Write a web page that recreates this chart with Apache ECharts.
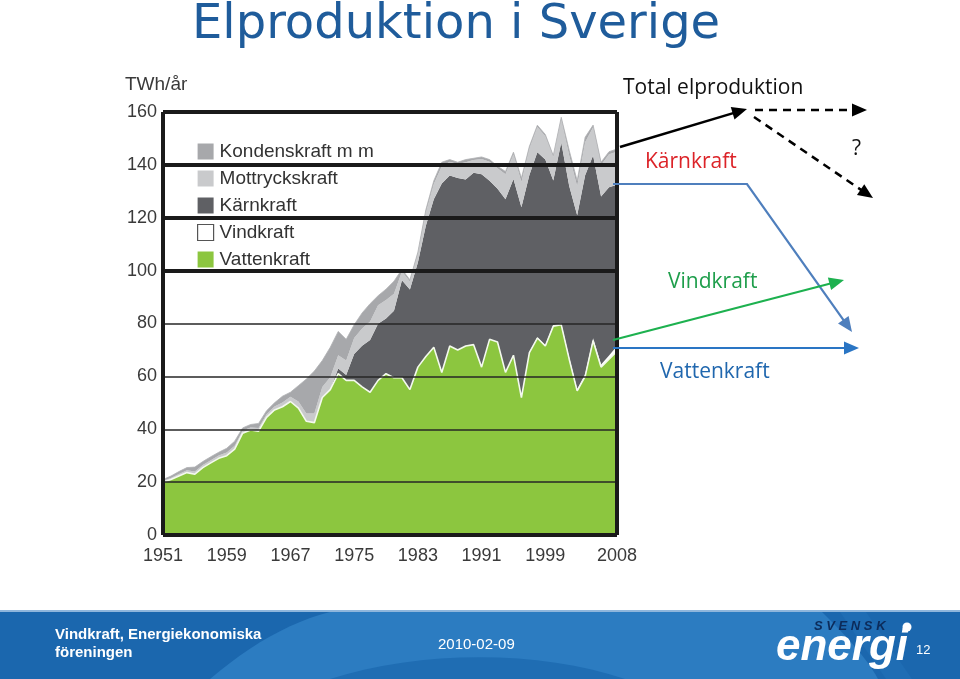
<!DOCTYPE html>
<html>
<head>
<meta charset="utf-8">
<script src="https://cdn.jsdelivr.net/npm/echarts@6/dist/echarts.min.js"></script>
<style>
html,body{margin:0;padding:0;background:#fff;}
#chart{width:960px;height:679px;}
</style>
</head>
<body>
<div id="chart"></div>
<script>
// ---- data (TWh/år) ----
const years = ['1951','1952','1953','1954','1955','1956','1957','1958','1959','1960',
'1961','1962','1963','1964','1965','1966','1967','1968','1969','1970',
'1971','1972','1973','1974','1975','1976','1977','1978','1979','1980',
'1981','1982','1983','1984','1985','1986','1987','1988','1989','1990',
'1991','1992','1993','1994','1995','1996','1997','1998','1999','2000',
'2001','2002','2003','2004','2005','2006','2007','2008'];
const xTickYears = ['1951','1959','1967','1975','1983','1991','1999','2008'];
const yTicks = [0,20,40,60,80,100,120,140,160];

const vattenkraft = [20,21,22.3,23.6,23,25.5,27.3,29,30,32.5,
38.5,39.7,39.3,44.5,47.3,48.5,50.5,48,43,42.5,
52,55,61,58.5,58.5,56,54,58.5,61,59.5,
59.5,55,63.5,67.5,71,61.5,71.5,70,71.5,72,
63.5,74,73,61.5,68,52,69,74.5,71.5,79,
79.5,66.5,54.5,60,73.5,63.5,66.5,69.5];
const vindkraft = [0,0,0,0,0,0,0,0,0,0,
0,0,0,0,0,0,0,0,0,0,
0,0,0,0,0,0,0,0,0,0,
0,0,0,0,0,0,0,0,0,0,
0,0,0.1,0.1,0.1,0.2,0.2,0.3,0.35,0.45,
0.5,0.6,0.6,0.85,0.95,1.0,1.4,2.0];
const karnkraft = [0,0,0,0,0,0,0,0,0,0,
0,0,0,0,0,0,0,0,0,0,
0,0.2,2,2,10,15.6,19.8,21.4,20.9,25.3,
36.9,37.9,39.6,49.5,56,71.5,64.5,65,63,65,
73,60,57.9,65.4,66.6,71.8,67,70,70.2,54.6,
68.5,64.9,65.8,75.2,69.1,63.5,63.6,61];
const mottryckskraft = [0.5,0.6,0.8,0.9,1.0,1.0,1.0,1.1,1.2,1.3,
1.0,1.0,1.2,1.2,1.3,1.6,1.8,2.5,3.0,3.5,
4.0,4.5,5.0,5.5,6.0,6.5,7.0,7.0,7.0,6.5,
3.3,3.0,3.2,5.0,5.8,6.5,5.2,5.3,6.5,4.8,
5.7,7.2,7.7,9.5,9.3,9.5,10,9.5,8.8,9,
8.8,11.5,11,12.5,10.7,12,12.5,12.5];
const kondenskraft = [0.5,0.7,0.9,1.0,1.7,1.3,1.3,1.2,1.6,1.7,
1.0,1.1,1.7,1.3,1.4,2.4,1.7,6.0,13.0,16.0,
10.0,11.3,9.0,8.0,5.0,5.9,6.7,3.6,4.1,4.7,
0.8,0.6,0.7,1.0,1.2,1.5,0.8,0.7,1.0,0.7,
0.8,0.8,0.8,1.0,0.8,1.5,0.8,0.7,0.65,0.5,
0.7,2.0,2.1,1.9,0.8,1.0,1.0,1.0];

const thickGrid = [160,140,120,100,0];
const thinGrid = [80,60,40,20];

// ---- styles ----
const FONT = '"Liberation Sans", Arial, sans-serif';
const C = {
  vatten:'#8cc63f', vind:'#ffffff', karn:'#5f6064', mottryck:'#c9cacc', kondens:'#a7a8ab'
};
const thick = {color:'#1a1a1a', width:4, type:'solid'};
const thin = {color:'#262626', width:1.5, type:'solid'};

function areaSeries(name, data, color, extra){
  return Object.assign({
    name, type:'line', stack:'total', data,
    symbol:'none', showSymbol:false,
    lineStyle:{width:0, color:color},
    itemStyle:{color:color},
    areaStyle:{color:color, opacity:1},
    emphasis:{disabled:true},
    z:2
  }, extra||{});
}

const markData = [];
thickGrid.forEach(v=>markData.push({yAxis:v, lineStyle:thick}));
thinGrid.forEach(v=>markData.push({yAxis:v, lineStyle:thin}));
markData.push({xAxis:years[0], lineStyle:thick});
markData.push({xAxis:years[years.length-1], lineStyle:thick});

// ---- annotation helpers ----
function arrowHead(x1,y1,x2,y2,color,len,half){
  const a=Math.atan2(y2-y1,x2-x1);
  const bx=x2-len*Math.cos(a), by=y2-len*Math.sin(a);
  const px=-Math.sin(a)*half, py=Math.cos(a)*half;
  return {type:'polygon', silent:true, z:20,
    shape:{points:[[x2,y2],[bx+px,by+py],[bx-px,by-py]]},
    style:{fill:color}};
}
function arrowPolyline(pts,color,width,dash){
  const n=pts.length;
  const p1=pts[n-2], p2=pts[n-1];
  const a=Math.atan2(p2[1]-p1[1],p2[0]-p1[0]);
  const shortEnd=[p2[0]-10*Math.cos(a), p2[1]-10*Math.sin(a)];
  const linePts=pts.slice(0,n-1).concat([shortEnd]);
  return [
    {type:'polyline', silent:true, z:20, shape:{points:linePts},
     style:{stroke:color, lineWidth:width, fill:null, lineDash:dash||null}},
    arrowHead(p1[0],p1[1],p2[0],p2[1],color,15,6.5)
  ];
}
function bez(p0,p1,p2,p3,n){
  const out=[];
  for(let i=0;i<=n;i++){
    const t=i/n, u=1-t;
    out.push([u*u*u*p0[0]+3*u*u*t*p1[0]+3*u*t*t*p2[0]+t*t*t*p3[0],
              u*u*u*p0[1]+3*u*u*t*p1[1]+3*u*t*t*p2[1]+t*t*t*p3[1]]);
  }
  return out;
}

const graphics = [];
// Title
graphics.push({type:'text', left:192, top:2, z:30,
  style:{text:'Elproduktion i Sverige', font:'48px "DejaVu Sans", sans-serif', fill:'#1f5c9b'}});
// Axis unit
graphics.push({type:'text', left:125, top:75, z:30,
  style:{text:'TWh/år', font:'19px '+FONT, fill:'#3a3a3a'}});

// Right-hand annotations
const AF = '"Open Sans", "Noto Sans", sans-serif';
graphics.push({type:'text', left:623, top:78, z:30, style:{text:'Total elproduktion', font:'21px '+AF, fill:'#111'}});
graphics.push({type:'text', left:645, top:152, z:30, style:{text:'Kärnkraft', font:'21px '+AF, fill:'#dc2328'}});
graphics.push({type:'text', left:668, top:272, z:30, style:{text:'Vindkraft', font:'21px '+AF, fill:'#1e9e4b'}});
graphics.push({type:'text', left:660, top:362, z:30, style:{text:'Vattenkraft', font:'21px '+AF, fill:'#2067ae'}});
graphics.push({type:'text', left:852, top:139, z:30, style:{text:'?', font:'21px '+AF, fill:'#111'}});

arrowPolyline([[620,147],[747,109]],'#000',2.5).forEach(g=>graphics.push(g));
arrowPolyline([[755,110],[867,110]],'#000',2.5,[8,6]).forEach(g=>graphics.push(g));
arrowPolyline([[754,117],[873,198]],'#000',2.5,[8,6]).forEach(g=>graphics.push(g));
arrowPolyline([[613,184],[747,184],[852,332]],'#4f7fbd',2.2).forEach(g=>graphics.push(g));
arrowPolyline([[613,340],[844,280]],'#1db14f',2.2).forEach(g=>graphics.push(g));
arrowPolyline([[613,348],[859,348]],'#2a75c4',2.2).forEach(g=>graphics.push(g));

// Footer band
graphics.push({type:'rect', silent:true, z:1, shape:{x:0,y:612,width:960,height:67}, style:{fill:'#1b67ae'}});
graphics.push({type:'polygon', silent:true, z:1,
  shape:{points: bez([210,679],[250,645],[290,622],[330,612],12).concat(bez([822,612],[850,640],[868,660],[878,679],12))},
  style:{fill:'#2c7cc1'}});
graphics.push({type:'polygon', silent:true, z:1,
  shape:{points: bez([330,679],[420,650],[540,650],[625,679],16)},
  style:{fill:'#1f6db3'}});
graphics.push({type:'polygon', silent:true, z:1, shape:{points:[[840,612],[866,612],[912,679],[886,679]]}, style:{fill:'#1f6db4'}});
graphics.push({type:'rect', silent:true, z:1, shape:{x:0,y:610,width:960,height:2}, style:{fill:'#8fb6dc'}});
graphics.push({type:'text', left:55, top:627, z:30, style:{text:'Vindkraft, Energiekonomiska', font:'bold 15px '+FONT, fill:'#fff'}});
graphics.push({type:'text', left:55, top:645, z:30, style:{text:'föreningen', font:'bold 15px '+FONT, fill:'#fff'}});
graphics.push({type:'text', left:438, top:637, z:30, style:{text:'2010-02-09', font:'15px '+FONT, fill:'#fff'}});
graphics.push({type:'text', left:814, top:620, z:30, style:{text:'S V E N S K', font:'bold italic 13px '+FONT, fill:'#0c2b5a'}});
graphics.push({type:'circle', silent:true, z:30, shape:{cx:907,cy:627,r:4.5}, style:{fill:'#fff'}});
graphics.push({type:'text', left:776, top:626, z:30, style:{text:'energi', font:'bold italic 44px '+FONT, fill:'#fff'}});
graphics.push({type:'text', left:916, top:644, z:30, style:{text:'12', font:'13px '+FONT, fill:'#fff'}});

const chart = echarts.init(document.getElementById('chart'), null, {renderer:'canvas'});
chart.setOption({
  animation:false,
  backgroundColor:'#ffffff',
  grid:{left:163, top:112, width:454, height:423, containLabel:false},
  legend:{
    orient:'vertical', left:192, top:137,
    itemWidth:16, itemHeight:16, itemGap:8, icon:'rect',
    selectedMode:false,
    textStyle:{fontSize:19, color:'#333', fontFamily:FONT, padding:[0,0,0,1]},
    data:[
      {name:'Kondenskraft m m', itemStyle:{color:C.kondens}},
      {name:'Mottryckskraft', itemStyle:{color:C.mottryck}},
      {name:'Kärnkraft', itemStyle:{color:C.karn}},
      {name:'Vindkraft', itemStyle:{color:'#fff', borderColor:'#555', borderWidth:1.2}},
      {name:'Vattenkraft', itemStyle:{color:C.vatten}}
    ]
  },
  xAxis:{
    type:'category', data:years, boundaryGap:false,
    axisLine:{show:false}, axisTick:{show:false}, splitLine:{show:false},
    axisLabel:{
      interval:(i,v)=>xTickYears.indexOf(v)>=0,
      fontSize:18, color:'#3a3a3a', fontFamily:FONT, margin:12, hideOverlap:false
    }
  },
  yAxis:{
    type:'value', min:yTicks[0], max:yTicks[yTicks.length-1], interval:20,
    axisLine:{show:false}, axisTick:{show:false}, splitLine:{show:false},
    axisLabel:{fontSize:18, color:'#3a3a3a', fontFamily:FONT, margin:6}
  },
  series:[
    areaSeries('Vattenkraft', vattenkraft, C.vatten, {
      z:3,
      lineStyle:{width:1.6, color:'#f4f9ee'},
      markLine:{silent:true, symbol:['none','none'], label:{show:false}, animation:false,
        emphasis:{disabled:true}, data:markData}
    }),
    areaSeries('Vindkraft', vindkraft, C.vind),
    areaSeries('Kärnkraft', karnkraft, C.karn),
    areaSeries('Mottryckskraft', mottryckskraft, C.mottryck),
    areaSeries('Kondenskraft m m', kondenskraft, C.kondens, {lineStyle:{width:0.8, color:'#b0b1b4'}})
  ],
  graphic: graphics
});
</script>
</body>
</html>
